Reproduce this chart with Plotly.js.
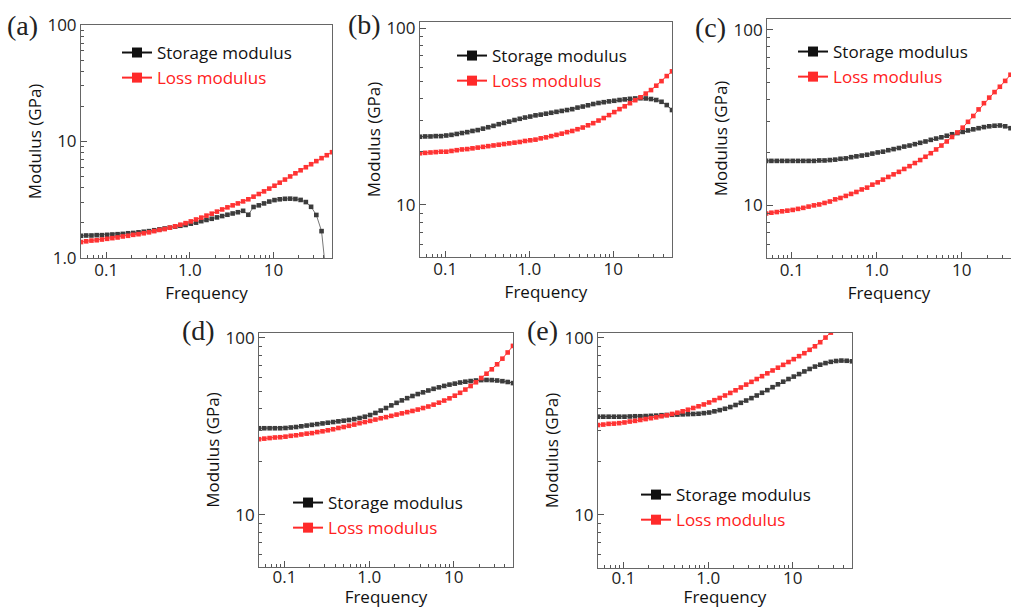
<!DOCTYPE html>
<html>
<head>
<meta charset="utf-8">
<script src="https://cdn.plot.ly/plotly-3.0.1.min.js"></script>
<style>html,body{margin:0;padding:0;background:#fff;overflow:hidden}#chart{width:1011px;height:608px}</style>
</head>
<body>
<div id="chart"></div>
<script>
// Frequency sweep (shared by all panels)
const freq = [0.05,0.0577,0.0667,0.077,0.0889,0.1027,0.1186,0.1369,0.158,0.1826,
  0.2108,0.2434,0.2812,0.3247,0.375,0.433,0.5,0.577,0.667,0.77,
  0.889,1.027,1.186,1.369,1.58,1.826,2.108,2.434,2.812,3.247,
  3.75,4.33,5.0,5.77,6.67,7.7,8.89,10.27,11.86,13.69,
  15.8,18.26,21.08,24.34,28.12,32.47,37.5,43.3,50];

// (a)
const storageA = [1.55,1.56,1.56,1.57,1.57,1.58,1.59,1.60,1.61,1.63,
  1.64,1.66,1.68,1.70,1.73,1.76,1.79,1.82,1.86,1.89,
  1.92,1.97,2.01,2.07,2.12,2.17,2.23,2.29,2.35,2.41,
  2.47,2.54,2.35,2.74,2.83,2.94,3.05,3.14,3.19,3.22,
  3.23,3.21,3.15,3.02,2.75,2.34,1.70,0.63,0.30];
const lossA = [1.37,1.39,1.41,1.42,1.44,1.46,1.48,1.50,1.53,1.55,
  1.58,1.60,1.63,1.66,1.70,1.74,1.77,1.82,1.87,1.93,
  1.99,2.06,2.14,2.22,2.31,2.40,2.50,2.61,2.72,2.83,
  2.94,3.06,3.19,3.36,3.54,3.73,3.94,4.17,4.43,4.71,
  5.01,5.33,5.66,6.01,6.38,6.78,7.19,7.62,8.09];
// (b)
const storageB = [24.3,24.4,24.4,24.5,24.5,24.7,24.9,25.2,25.5,25.8,
  26.2,26.5,27.0,27.5,28.0,28.6,29.1,29.6,30.2,30.7,
  31.2,31.6,32.1,32.4,32.8,33.2,33.6,34.0,34.4,34.8,
  35.5,36.0,36.6,37.2,37.7,38.1,38.5,38.8,39.2,39.5,
  39.8,40.0,40.1,40.0,39.7,39.2,38.3,36.7,34.4];
const lossB = [19.6,19.7,19.8,19.9,20.0,20.0,20.2,20.4,20.6,20.7,
  20.9,21.1,21.3,21.5,21.7,21.9,22.1,22.3,22.5,22.7,
  23.0,23.2,23.4,23.8,24.1,24.5,24.9,25.3,25.8,26.2,
  26.8,27.4,28.2,29.0,30.0,31.0,32.2,33.5,34.8,36.1,
  37.6,39.1,40.6,42.6,44.6,47.2,50.1,53.5,56.9];
// (c)
const storageC = [17.9,17.9,17.9,17.9,17.9,17.9,17.9,17.9,17.9,17.9,
  18.0,18.0,18.1,18.2,18.4,18.5,18.8,19.0,19.2,19.4,
  19.7,20.0,20.2,20.6,20.9,21.2,21.6,21.9,22.3,22.7,
  23.1,23.6,24.0,24.4,24.9,25.4,25.8,26.2,26.7,27.1,
  27.5,27.9,28.2,28.4,28.5,28.2,27.5,26.6,25.4];
const lossC = [8.97,9.06,9.14,9.23,9.31,9.40,9.53,9.66,9.82,9.98,
  10.1,10.3,10.5,10.8,11.0,11.3,11.6,11.9,12.3,12.6,
  13.1,13.5,14.0,14.5,15.0,15.5,16.1,16.7,17.4,18.1,
  18.9,19.8,20.8,21.9,23.1,24.5,26.0,27.7,29.9,32.3,
  35.2,38.2,41.1,44.2,47.4,51.2,55.5,60.1,65.0];
// (d)
const storageD = [30.9,30.9,30.9,30.9,30.9,31.0,31.2,31.4,31.7,32.0,
  32.3,32.6,32.9,33.2,33.5,33.8,34.1,34.4,34.8,35.3,
  35.9,36.7,37.7,38.9,40.2,41.6,43.0,44.4,45.7,47.0,
  48.2,49.3,50.5,51.6,52.6,53.6,54.5,55.2,56.0,56.6,
  57.1,57.5,57.8,57.9,57.8,57.5,57.0,56.4,55.6];
const lossD = [26.8,27.0,27.2,27.4,27.5,27.7,28.0,28.2,28.5,28.8,
  29.0,29.4,29.7,30.1,30.5,31.0,31.4,31.9,32.4,33.0,
  33.5,34.0,34.6,35.2,35.7,36.3,36.9,37.5,38.1,38.7,
  39.4,40.2,41.0,42.0,43.1,44.3,45.6,47.2,49.0,51.1,
  53.5,56.2,59.4,62.8,66.5,71.0,76.4,82.8,90.2];
// (e)
const storageE = [35.9,35.9,35.9,35.9,35.9,35.9,36.0,36.1,36.1,36.2,
  36.3,36.4,36.6,36.7,36.8,36.9,37.0,37.1,37.2,37.3,
  37.6,37.9,38.5,39.1,39.8,40.7,41.8,43.0,44.3,45.7,
  47.3,49.0,50.7,52.7,54.7,56.6,58.6,60.5,62.5,64.7,
  66.8,68.9,70.6,72.1,73.3,74.1,74.5,74.3,73.8];
const lossE = [32.2,32.4,32.7,32.8,33.0,33.3,33.7,34.0,34.4,34.8,
  35.2,35.6,36.1,36.6,37.2,37.8,38.5,39.3,40.2,41.1,
  42.1,43.2,44.5,45.8,47.3,48.9,50.6,52.5,54.5,56.5,
  58.6,60.8,63.1,65.5,67.9,70.5,73.1,75.9,78.9,82.0,
  85.7,89.7,94.6,100.5,107.2,115,123,132,141];

const panelLabels = ['(a)','(b)','(c)','(d)','(e)'];
const xTickVals = [0.1, 1, 10];
const xTickText = ['0.1', '1.0', '10'];
const yTickValsA = [1, 10, 100];
const yTickTextA = ['1.0', '10', '100'];
const yTickVals = [10, 100];
const yTickText = ['10', '100'];
const xMinor = [0.06,0.07,0.08,0.09,0.2,0.3,0.4,0.5,0.6,0.7,0.8,0.9,2,3,4,5,6,7,8,9,20,30,40];
const yMinor = [2,3,4,5,6,7,8,9,20,30,40,50,60,70,80,90];
const seriesNames = ['Storage modulus', 'Loss modulus'];

const BLACK = '#3c3c3c', RED = '#ff3333';
const SANS = 'Open Sans, Noto Sans, sans-serif';

const storage = [storageA, storageB, storageC, storageD, storageE];
const loss = [lossA, lossB, lossC, lossD, lossE];

const traces = [];
for (let i = 0; i < 5; i++) {
  const s = i === 0 ? '' : String(i + 1);
  const leg = 'legend' + s;
  // data traces
  traces.push({
    x: freq, y: storage[i], xaxis: 'x' + s, yaxis: 'y' + s, legend: leg,
    legendgroup: 'st' + i, showlegend: false,
    type: 'scatter', mode: 'lines+markers', cliponaxis: true,
    name: seriesNames[0],
    line: {color: i === 0 ? '#777' : BLACK, width: 1},
    marker: {symbol: 'square', size: 4.6, color: BLACK, line: {width: 0}}
  });
  traces.push({
    x: freq, y: loss[i], xaxis: 'x' + s, yaxis: 'y' + s, legend: leg,
    legendgroup: 'ls' + i, showlegend: false,
    type: 'scatter', mode: 'lines+markers', cliponaxis: true,
    name: seriesNames[1],
    line: {color: RED, width: 1},
    marker: {symbol: 'square', size: 4.6, color: RED, line: {width: 0}}
  });
  // legend keys (larger symbol, as in the original figure)
  traces.push({
    x: [null], y: [null], xaxis: 'x' + s, yaxis: 'y' + s, legend: leg,
    legendgroup: 'st' + i, showlegend: true, hoverinfo: 'skip',
    type: 'scatter', mode: 'lines+markers',
    name: '<span style="color:#111">' + seriesNames[0] + '</span>',
    line: {color: '#111', width: 2},
    marker: {symbol: 'square', size: 10, color: '#111', line: {width: 0}}
  });
  traces.push({
    x: [null], y: [null], xaxis: 'x' + s, yaxis: 'y' + s, legend: leg,
    legendgroup: 'ls' + i, showlegend: true, hoverinfo: 'skip',
    type: 'scatter', mode: 'lines+markers',
    name: '<span style="color:#ff2020">' + seriesNames[1] + '</span>',
    line: {color: '#ff2a2a', width: 2},
    marker: {symbol: 'square', size: 10, color: '#ff2a2a', line: {width: 0}}
  });
}

function xAxis(domain, range, anchor, standoff, labelStandoff) {
  return {
    type: 'log', domain: domain, range: range, anchor: anchor,
    tickmode: 'array', tickvals: xTickVals, ticktext: xTickText,
    ticks: 'inside', ticklen: 6, tickwidth: 1, tickcolor: '#555',
    minor: {tickmode: 'array', tickvals: xMinor, ticks: 'inside', ticklen: 3, tickwidth: 1, tickcolor: '#555', showgrid: false},
    showline: true, linecolor: '#666', linewidth: 1, mirror: true,
    showgrid: false, zeroline: false, automargin: false,
    ticklabelstandoff: labelStandoff,
    tickfont: {family: SANS, size: 17, color: '#222'},
    title: {text: 'Frequency', font: {family: SANS, size: 17, color: '#111'}, standoff: standoff}
  };
}
function yAxis(domain, range, anchor, tv, tt) {
  return {
    type: 'log', domain: domain, range: range, anchor: anchor,
    tickmode: 'array', tickvals: tv, ticktext: tt,
    ticks: 'inside', ticklen: 6, tickwidth: 1, tickcolor: '#555',
    minor: {tickmode: 'array', tickvals: yMinor, ticks: 'inside', ticklen: 3, tickwidth: 1, tickcolor: '#555', showgrid: false},
    showline: true, linecolor: '#666', linewidth: 1, mirror: true,
    showgrid: false, zeroline: false, automargin: false,
    tickfont: {family: SANS, size: 17, color: '#222'},
    title: {text: 'Modulus (GPa)', font: {family: SANS, size: 17, color: '#111'}, standoff: 1}
  };
}
function legendAt(x, y) {
  return {
    x: x, y: y, xanchor: 'left', yanchor: 'top', orientation: 'v',
    bgcolor: 'rgba(0,0,0,0)', borderwidth: 0,
    font: {family: SANS, size: 17, color: '#111'},
    itemsizing: 'trace', tracegroupgap: 5, traceorder: 'normal'
  };
}

const L = Math.log10;
const layout = {
  width: 1011, height: 608,
  margin: {l: 0, r: 0, t: 0, b: 0},
  paper_bgcolor: '#fff', plot_bgcolor: '#fff',
  showlegend: true,
  xaxis:  xAxis([0.0801, 0.3284], [L(0.05), L(50)], 'y', 0, -3),
  yaxis:  yAxis([0.5757, 0.9589], [0, 2], 'x', yTickValsA, yTickTextA),
  xaxis2: xAxis([0.4154, 0.6647], [L(0.05), L(50)], 'y2', 0, -3),
  yaxis2: yAxis([0.5773, 0.9638], [0.706, 2.034], 'x2', yTickVals, yTickText),
  xaxis3: xAxis([0.7587, 1.0], [-1.29, 1.58], 'y3', 0, -3),
  yaxis3: yAxis([0.5757, 0.9688], [0.699, 2.0625], 'x3', yTickVals, yTickText),
  xaxis4: xAxis([0.2562, 0.5074], [L(0.05), L(50)], 'y4', 3, -5),
  yaxis4: yAxis([0.0674, 0.4523], [0.706, 2.028], 'x4', yTickVals, yTickText),
  xaxis5: xAxis([0.5915, 0.8427], [L(0.05), L(50)], 'y5', 3, -5),
  yaxis5: yAxis([0.0658, 0.4523], [0.70, 2.028], 'x5', yTickVals, yTickText),
  legend:  legendAt(0.1157, 0.9425),
  legend2: legendAt(0.4471, 0.9375),
  legend3: legendAt(0.7844, 0.9441),
  legend4: legendAt(0.2849, 0.2023),
  legend5: legendAt(0.6291, 0.2154),
  annotations: [
    {x: 5, y: 25, text: panelLabels[0]},
    {x: 346, y: 24, text: panelLabels[1]},
    {x: 693, y: 28, text: panelLabels[2]},
    {x: 180, y: 330, text: panelLabels[3]},
    {x: 525, y: 330, text: panelLabels[4]}
  ].map(a => ({
    x: a.x / 1011, y: 1 - a.y / 608, xref: 'paper', yref: 'paper',
    xanchor: 'left', yanchor: 'middle', showarrow: false, text: a.text,
    font: {family: 'Liberation Serif, Times New Roman, serif', size: 28, color: '#222'}
  }))
};

Plotly.newPlot('chart', traces, layout, {staticPlot: true, displayModeBar: false});
</script>
</body>
</html>
